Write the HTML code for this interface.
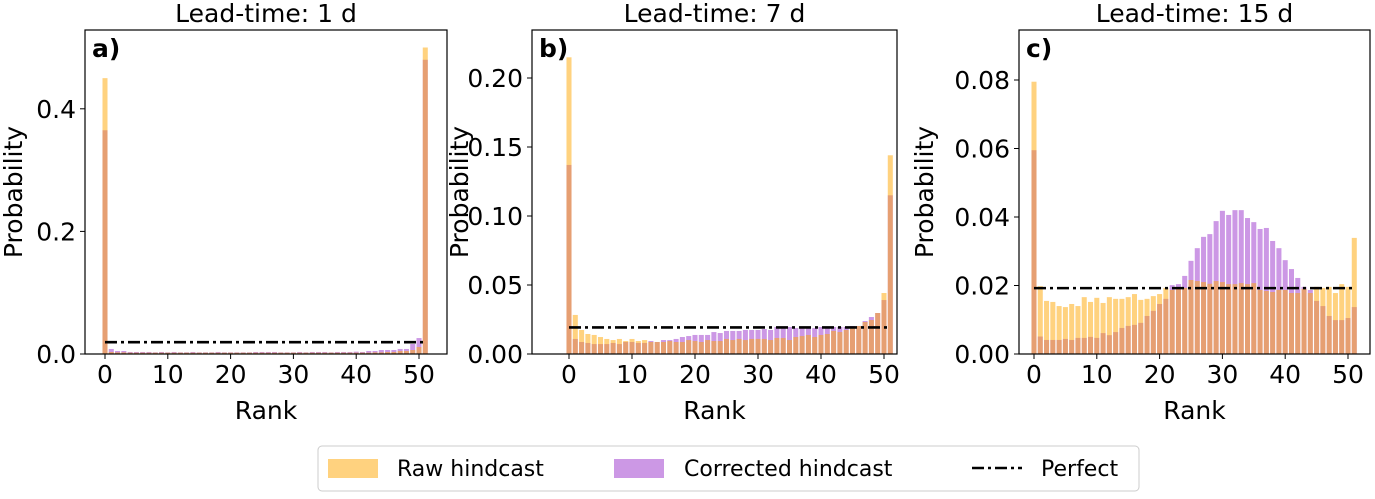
<!DOCTYPE html>
<html><head><meta charset="utf-8"><style>
body{margin:0;background:#fff;font-family:"Liberation Sans","DejaVu Sans",sans-serif}
svg text{font-family:"DejaVu Sans","Liberation Sans",sans-serif;fill:#000}
</style></head><body>
<svg id="fig" width="1375" height="494" xmlns="http://www.w3.org/2000/svg">
<g>
<rect x="318" y="446" width="821" height="45" rx="4" fill="#fff" stroke="#ccc"/>
<rect x="328" y="459" width="50" height="19" fill="#ffa500" fill-opacity="0.5"/>
<text x="397" y="476" font-size="22">Raw hindcast</text>
<rect x="614" y="459" width="50" height="19" fill="#9932cc" fill-opacity="0.5"/>
<text x="684" y="476" font-size="22">Corrected hindcast</text>
<line x1="972" y1="468" x2="1022" y2="468" stroke="#000" stroke-width="2.5" stroke-dasharray="12,4,3,4"/>
<text x="1041" y="476" font-size="22">Perfect</text>
</g>
</svg>
<script>
const ranks = Array.from({length:52},(_, i)=>i);
const rawA = [0.45,0.0033,0.0027,0.0027,0.0022,0.0022,0.0022,0.0022,0.0022,0.0022,0.0022,0.0022,0.0022,0.0022,0.0022,0.0022,0.0022,0.0022,0.0022,0.0022,0.0022,0.0022,0.0022,0.0022,0.0022,0.0022,0.0022,0.0022,0.0022,0.0022,0.0022,0.0022,0.0022,0.0022,0.0022,0.0022,0.0022,0.0022,0.0022,0.0022,0.0022,0.0022,0.0022,0.0027,0.0027,0.0033,0.0033,0.0049,0.0049,0.0065,0.0114,0.50];
const corA = [0.365,0.0082,0.0049,0.0049,0.0033,0.0033,0.0033,0.0033,0.0027,0.0033,0.0027,0.0033,0.0027,0.0027,0.0033,0.0027,0.0027,0.0027,0.0033,0.0027,0.0027,0.0027,0.0027,0.0027,0.0033,0.0033,0.0033,0.0033,0.0027,0.0027,0.0027,0.0033,0.0027,0.0033,0.0033,0.0033,0.0027,0.0033,0.0033,0.0033,0.0038,0.0033,0.0049,0.0049,0.0065,0.0065,0.0065,0.0082,0.0082,0.0163,0.026,0.48];
const rawB = [0.215,0.0283,0.0174,0.0145,0.0138,0.0123,0.0109,0.0101,0.0109,0.0094,0.0109,0.0094,0.0101,0.0087,0.0087,0.0087,0.0094,0.0087,0.0087,0.0101,0.0094,0.0087,0.0101,0.0094,0.0094,0.0109,0.0101,0.0109,0.0101,0.0109,0.0109,0.0109,0.0101,0.0116,0.0116,0.0101,0.0123,0.0130,0.0138,0.0123,0.0138,0.0145,0.0167,0.0159,0.0174,0.0196,0.0203,0.0232,0.0246,0.0297,0.0442,0.144];
const corB = [0.137,0.0109,0.0087,0.0080,0.0072,0.0072,0.0072,0.0080,0.0072,0.0087,0.0087,0.0080,0.0080,0.0094,0.0087,0.0101,0.0101,0.0109,0.0123,0.0130,0.0138,0.0138,0.0138,0.0159,0.0152,0.0167,0.0167,0.0167,0.0174,0.0174,0.0174,0.0181,0.0174,0.0196,0.0196,0.0196,0.0188,0.0196,0.0196,0.0188,0.0196,0.0196,0.0196,0.0196,0.0196,0.0203,0.0203,0.0239,0.0268,0.0297,0.0391,0.115];
const rawC = [0.0795,0.0198,0.0155,0.0152,0.0140,0.0137,0.0146,0.0140,0.0166,0.0152,0.0164,0.0149,0.0166,0.0161,0.0161,0.0166,0.0175,0.0158,0.0161,0.0169,0.0175,0.0193,0.0187,0.0193,0.0193,0.0216,0.0213,0.0210,0.0205,0.0213,0.0210,0.0204,0.0204,0.0207,0.0204,0.0207,0.0187,0.0184,0.0181,0.0187,0.0187,0.0178,0.0178,0.0190,0.0178,0.0196,0.0193,0.0196,0.0178,0.0204,0.0196,0.0339];
const corC = [0.0595,0.0051,0.0041,0.0041,0.0041,0.0044,0.0041,0.0047,0.0047,0.0050,0.0047,0.0061,0.0055,0.0064,0.0076,0.0082,0.0085,0.0091,0.0111,0.0126,0.0146,0.0161,0.0201,0.0204,0.0228,0.0272,0.0309,0.0342,0.0350,0.0388,0.0418,0.0406,0.0420,0.0420,0.0397,0.0385,0.0365,0.0368,0.0330,0.0309,0.0274,0.0248,0.0222,0.0196,0.0187,0.0155,0.0140,0.0111,0.0099,0.0099,0.0105,0.0137];
const xTicks = [0,10,20,30,40,50];
const yTicksA = ["0.0","0.2","0.4"];
const yTicksB = ["0.00","0.05","0.10","0.15","0.20"];
const yTicksC = ["0.00","0.02","0.04","0.06","0.08"];
const titles = ["Lead-time: 1 d","Lead-time: 7 d","Lead-time: 15 d"];
const perfect = 1/52;

const NS="http://www.w3.org/2000/svg";
const svg=document.getElementById('fig');
function mk(tag,attrs,parent){const e=document.createElementNS(NS,tag);for(const k in attrs)e.setAttribute(k,attrs[k]);(parent||svg).appendChild(e);return e;}
const FS=25;
function panel(cfg){
  const g=mk('g',{});
  
  
  const {left,right,top,bottom,x0,pxPerRank,yMax}=cfg;
  const X=r=>x0+r*pxPerRank;
  const Y=v=>bottom-(v/yMax)*(bottom-top);
  const bw=pxPerRank*0.8;
  ranks.forEach(r=>{
    const v=cfg.cor[r];
    const b=mk('rect',{x:X(r)-bw/2,y:Y(v),width:bw,height:bottom-Y(v),fill:'#9932cc','fill-opacity':0.5},g);
    
    
  });
  ranks.forEach(r=>{
    const v=cfg.raw[r];
    const b=mk('rect',{x:X(r)-bw/2,y:Y(v),width:bw,height:bottom-Y(v),fill:'#ffa500','fill-opacity':0.5},g);
    
    
  });
  const pl=mk('line',{x1:X(0),x2:X(51),y1:Y(perfect),y2:Y(perfect),stroke:'#000','stroke-width':2.6,'stroke-dasharray':'12,4,3,4'},g);
  
  
  mk('rect',{x:left,y:top,width:right-left,height:bottom-top,fill:'none',stroke:'#000','stroke-width':1.2},g);
  xTicks.forEach(t=>{
    mk('line',{x1:X(t),x2:X(t),y1:bottom,y2:bottom+5,stroke:'#000'},g);
    const tx=mk('text',{x:X(t),y:bottom+29,'font-size':FS,'text-anchor':'middle'},g);tx.textContent=t;
    
    
  });
  cfg.yt.forEach(t=>{
    const y=Y(parseFloat(t));
    mk('line',{x1:left-5,x2:left,y1:y,y2:y,stroke:'#000'},g);
    const tx=mk('text',{x:left-9,y:y+9,'font-size':FS,'text-anchor':'end'},g);tx.textContent=t;
    
    
  });
  const ti=mk('text',{x:(left+right)/2,y:22,'font-size':FS,'text-anchor':'middle'},g);ti.textContent=cfg.title;
  
  
  const xl=mk('text',{x:(left+right)/2,y:419,'font-size':FS,'text-anchor':'middle'},g);xl.textContent='Rank';
  
  
  const yl=mk('text',{x:0,y:0,'font-size':FS,'text-anchor':'middle',transform:`translate(${cfg.ylx},${(top+bottom)/2}) rotate(-90)`},g);yl.textContent='Probability';
  
  
  const lt=mk('text',{x:left+7,y:top+27,'font-size':FS,'font-weight':'bold'},g);lt.textContent=cfg.letter;
  
  
}
panel({name:'panel-a',left:85,right:447,top:30,bottom:354,x0:105,pxPerRank:6.28,yMax:(354-30)/613,raw:rawA,cor:corA,yt:yTicksA,title:titles[0],letter:'a)',ylx:22});
panel({name:'panel-b',left:532,right:897,top:30,bottom:354,x0:569,pxPerRank:6.3,yMax:(354-30)/1380,raw:rawB,cor:corB,yt:yTicksB,title:titles[1],letter:'b)',ylx:468});
panel({name:'panel-c',left:1019,right:1370,top:30,bottom:354,x0:1034,pxPerRank:6.28,yMax:(354-30)/3425,raw:rawC,cor:corC,yt:yTicksC,title:titles[2],letter:'c)',ylx:933});
</script>
</body></html>
